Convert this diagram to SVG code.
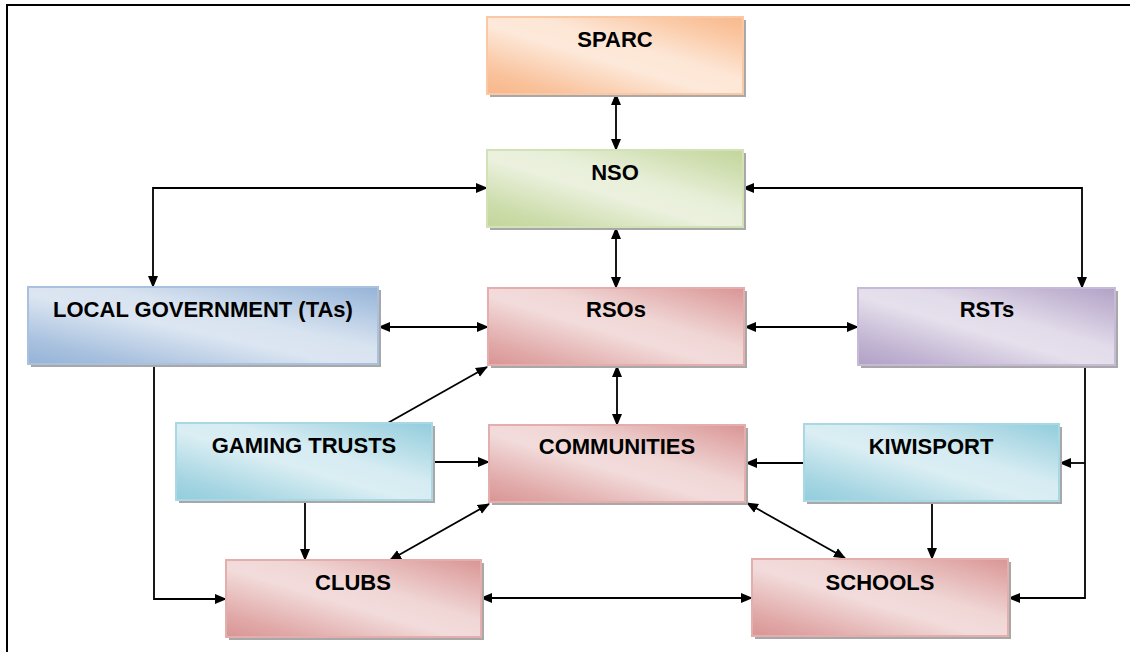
<svg xmlns="http://www.w3.org/2000/svg" width="1130" height="652" viewBox="0 0 1130 652">
<style>
.shadow{fill:#a8a8a8;}
.lbl{font-family:"Liberation Sans",Arial,sans-serif;font-weight:bold;font-size:22px;fill:#000;text-anchor:middle;}
.con path{fill:none;stroke:#000;stroke-width:1.8;}
.frame{fill:none;stroke:#000;stroke-width:2;}
</style>
<defs>
<linearGradient id="gOr" x1="0" y1="1" x2="1" y2="0"><stop offset="0" stop-color="#F8B78A"/><stop offset="0.15" stop-color="#F9C29C"/><stop offset="0.45" stop-color="#FDE9DA"/><stop offset="0.6" stop-color="#FDE6D5"/><stop offset="0.85" stop-color="#FAC7A2"/><stop offset="1" stop-color="#F8B88B"/></linearGradient>
<linearGradient id="gGr" x1="0" y1="1" x2="1" y2="0"><stop offset="0" stop-color="#C3D69B"/><stop offset="0.15" stop-color="#CCDCAA"/><stop offset="0.45" stop-color="#EBF1DE"/><stop offset="0.6" stop-color="#E8EFD9"/><stop offset="0.85" stop-color="#CFDEAF"/><stop offset="1" stop-color="#C3D69B"/></linearGradient>
<linearGradient id="gBl" x1="0" y1="1" x2="1" y2="0"><stop offset="0" stop-color="#95B3D7"/><stop offset="0.15" stop-color="#A7C0DE"/><stop offset="0.45" stop-color="#DCE6F2"/><stop offset="0.6" stop-color="#D8E3F0"/><stop offset="0.85" stop-color="#AEC5E1"/><stop offset="1" stop-color="#95B3D7"/></linearGradient>
<linearGradient id="gRd" x1="0" y1="1" x2="1" y2="0"><stop offset="0" stop-color="#D99594"/><stop offset="0.15" stop-color="#E0A9A8"/><stop offset="0.45" stop-color="#F2DCDB"/><stop offset="0.6" stop-color="#F0D7D6"/><stop offset="0.85" stop-color="#E2AEAD"/><stop offset="1" stop-color="#D99594"/></linearGradient>
<linearGradient id="gPu" x1="0" y1="1" x2="1" y2="0"><stop offset="0" stop-color="#B2A2C7"/><stop offset="0.15" stop-color="#BFB1D0"/><stop offset="0.45" stop-color="#E5E0EC"/><stop offset="0.6" stop-color="#E2DCEA"/><stop offset="0.85" stop-color="#C3B6D3"/><stop offset="1" stop-color="#B2A2C7"/></linearGradient>
<linearGradient id="gTe" x1="0" y1="1" x2="1" y2="0"><stop offset="0" stop-color="#92CDDC"/><stop offset="0.15" stop-color="#A5D5E2"/><stop offset="0.45" stop-color="#DAEEF3"/><stop offset="0.6" stop-color="#D6ECF2"/><stop offset="0.85" stop-color="#ABD8E4"/><stop offset="1" stop-color="#92CDDC"/></linearGradient>
<marker id="ah" markerUnits="userSpaceOnUse" markerWidth="12" markerHeight="12" viewBox="0 0 12 12" refX="11" refY="6" orient="auto-start-reverse"><path d="M0,1 L12,6 L0,11 z" fill="#000"/></marker>
</defs>

<path class="frame" d="M7,652 V5 H1130"/>

<g id="connectors" class="con">
<path d="M616,94 V150" marker-start="url(#ah)" marker-end="url(#ah)"/>
<path d="M616,228 V288" marker-start="url(#ah)" marker-end="url(#ah)"/>
<path d="M617,366 V425" marker-start="url(#ah)" marker-end="url(#ah)"/>
<path d="M487,188 H153 V287" marker-start="url(#ah)" marker-end="url(#ah)"/>
<path d="M743,188 H1082 V288" marker-start="url(#ah)" marker-end="url(#ah)"/>
<path d="M379,327 H488" marker-start="url(#ah)" marker-end="url(#ah)"/>
<path d="M745,327 H858" marker-start="url(#ah)" marker-end="url(#ah)"/>
<path d="M386,424 L487,367" marker-end="url(#ah)"/>
<path d="M432,462 H489" marker-end="url(#ah)"/>
<path d="M305,501 V560" marker-end="url(#ah)"/>
<path d="M154,365 V599 H226" marker-end="url(#ah)"/>
<path d="M489,504 L390,560" marker-start="url(#ah)" marker-end="url(#ah)"/>
<path d="M481,598 H752" marker-start="url(#ah)" marker-end="url(#ah)"/>
<path d="M804,463 H746" marker-end="url(#ah)"/>
<path d="M932,501 V559" marker-end="url(#ah)"/>
<path d="M747,503 L845,558" marker-start="url(#ah)" marker-end="url(#ah)"/>
<path d="M1085,366 V598 H1009" marker-end="url(#ah)"/>
<path d="M1085,463 H1060" marker-end="url(#ah)"/>
</g>

<g id="sparc"><rect class="shadow" x="490" y="20" width="256" height="77"/><rect x="487" y="17" width="256" height="77" fill="url(#gOr)" stroke="#FAC8A4" stroke-width="2"/><text class="lbl" x="615" y="47">SPARC</text></g>
<g id="nso"><rect class="shadow" x="490" y="153" width="256" height="77"/><rect x="487" y="150" width="256" height="77" fill="url(#gGr)" stroke="#D3E2B6" stroke-width="2"/><text class="lbl" x="615" y="180">NSO</text></g>
<g id="localgov"><rect class="shadow" x="31" y="290" width="350" height="77"/><rect x="28" y="287" width="350" height="77" fill="url(#gBl)" stroke="#A9C1DF" stroke-width="2"/><text class="lbl" x="203" y="317">LOCAL GOVERNMENT (TAs)</text></g>
<g id="rsos"><rect class="shadow" x="491" y="291" width="256" height="77"/><rect x="488" y="288" width="256" height="77" fill="url(#gRd)" stroke="#E3AEAD" stroke-width="2"/><text class="lbl" x="616" y="317">RSOs</text></g>
<g id="rsts"><rect class="shadow" x="861" y="291" width="257" height="77"/><rect x="858" y="288" width="257" height="77" fill="url(#gPu)" stroke="#C7BAD7" stroke-width="2"/><text class="lbl" x="987" y="317">RSTs</text></g>
<g id="gaming"><rect class="shadow" x="179" y="426" width="256" height="77"/><rect x="176" y="423" width="256" height="77" fill="url(#gTe)" stroke="#A9D7E3" stroke-width="2"/><text class="lbl" x="304" y="453">GAMING TRUSTS</text></g>
<g id="communities"><rect class="shadow" x="492" y="428" width="256" height="77"/><rect x="489" y="425" width="256" height="77" fill="url(#gRd)" stroke="#E3AEAD" stroke-width="2"/><text class="lbl" x="617" y="454">COMMUNITIES</text></g>
<g id="kiwisport"><rect class="shadow" x="807" y="427" width="255" height="77"/><rect x="804" y="424" width="255" height="77" fill="url(#gTe)" stroke="#A9D7E3" stroke-width="2"/><text class="lbl" x="931" y="454">KIWISPORT</text></g>
<g id="clubs"><rect class="shadow" x="229" y="563" width="255" height="77"/><rect x="226" y="560" width="255" height="77" fill="url(#gRd)" stroke="#E3AEAD" stroke-width="2"/><text class="lbl" x="353" y="590">CLUBS</text></g>
<g id="schools"><rect class="shadow" x="755" y="562" width="256" height="77"/><rect x="752" y="559" width="256" height="77" fill="url(#gRd)" stroke="#E3AEAD" stroke-width="2"/><text class="lbl" x="880" y="590">SCHOOLS</text></g>
</svg>
